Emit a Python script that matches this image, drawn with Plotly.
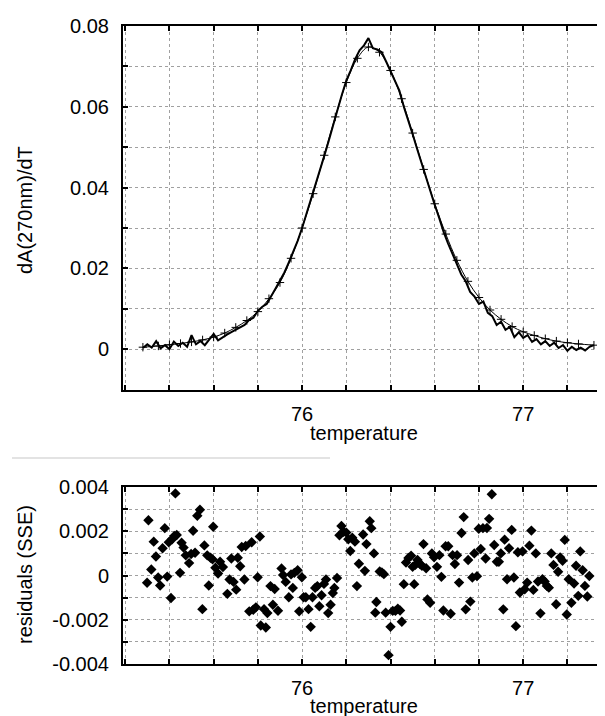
import plotly.graph_objects as go

# ---------------- data ----------------
# measured dA/dT curve (step 0.02 K)
meas_T = [75.28 + 0.02 * i for i in range(103)]
meas_vals = [
    0.0003, 0.0012, 0.0004, 0.0020, 0.0002, 0.0010, 0.0000, 0.0019, 0.0008, 0.0016,
    0.0006, 0.0035, 0.0012, 0.0020, 0.0010, 0.0025, 0.0038, 0.0022, 0.0030, 0.0036,
    0.0042, 0.0048, 0.0055, 0.0060, 0.0072, 0.0078, 0.0095, 0.0105, 0.0112, 0.0130,
    0.0150, 0.0170, 0.0190, 0.0215, 0.0240, 0.0268, 0.0300, 0.0335, 0.0368, 0.0405,
    0.0440, 0.0478, 0.0515, 0.0556, 0.0592, 0.0630, 0.0665, 0.0690, 0.0718, 0.0740,
    0.0752, 0.0770, 0.0745, 0.0742, 0.0735, 0.0712, 0.0688, 0.0665, 0.0640, 0.0600,
    0.0568, 0.0532, 0.0496, 0.0460, 0.0425, 0.0390, 0.0357, 0.0325, 0.0290, 0.0262,
    0.0235, 0.0212, 0.0185, 0.0168, 0.0142, 0.0130, 0.0112, 0.0118, 0.0090, 0.0082,
    0.0060, 0.0068, 0.0048, 0.0055, 0.0030, 0.0042, 0.0028, 0.0035, 0.0018, 0.0025,
    0.0012, 0.0020, 0.0008, 0.0016, 0.0003, 0.0010, -0.0004, 0.0006, -0.0002, 0.0004,
    -0.0003, 0.0006, 0.0010,
]

# fitted curve
fit_T = [75.28, 75.35, 75.40, 75.45, 75.50, 75.55, 75.60, 75.65, 75.70, 75.75,
         75.80, 75.85, 75.90, 75.95, 76.00, 76.05, 76.10, 76.15, 76.20, 76.25,
         76.30, 76.35, 76.40, 76.45, 76.50, 76.55, 76.60, 76.65, 76.70, 76.75,
         76.80, 76.85, 76.90, 76.95, 77.00, 77.05, 77.10, 77.15, 77.20, 77.25, 77.32]
fit_vals = [0.0005, 0.0008, 0.0011, 0.0014, 0.0018, 0.0023, 0.0030, 0.0040, 0.0054, 0.0071,
            0.0093, 0.0125, 0.0165, 0.0225, 0.0300, 0.0385, 0.0480, 0.0575, 0.0660, 0.0720,
            0.0748, 0.0735, 0.0690, 0.0620, 0.0535, 0.0445, 0.0360, 0.0285, 0.0220, 0.0168,
            0.0128, 0.0097, 0.0074, 0.0056, 0.0043, 0.0034, 0.0026, 0.0020, 0.0016, 0.0013, 0.0010]

# residuals
res_T = [
    75.299, 75.305, 75.318, 75.329, 75.339, 75.349, 75.358, 75.369, 75.379, 75.390,
    75.397, 75.407, 75.412, 75.422, 75.427, 75.433, 75.448, 75.455, 75.464, 75.474,
    75.489, 75.498, 75.507, 75.516, 75.526, 75.538, 75.549, 75.558, 75.571, 75.578,
    75.586, 75.595, 75.598, 75.608, 75.620, 75.629, 75.642, 75.662, 75.672, 75.680,
    75.690, 75.702, 75.709, 75.720, 75.727, 75.739, 75.745, 75.761, 75.772, 75.779,
    75.791, 75.799, 75.809, 75.813, 75.828, 75.836, 75.843, 75.857, 75.868, 75.876,
    75.891, 75.907, 75.914, 75.926, 75.940, 75.950, 75.958, 75.965, 75.980, 75.987,
    75.999, 76.007, 76.017, 76.029, 76.039, 76.047, 76.059, 76.069, 76.078, 76.088,
    76.099, 76.108, 76.118, 76.129, 76.139, 76.146, 76.158, 76.169, 76.178, 76.188,
    76.200, 76.209, 76.218, 76.227, 76.239, 76.248, 76.257, 76.276, 76.284, 76.291,
    76.306, 76.313, 76.325, 76.331, 76.336, 76.351, 76.361, 76.370, 76.378, 76.391,
    76.400, 76.410, 76.422, 76.433, 76.443, 76.451, 76.460, 76.470, 76.481, 76.493,
    76.500, 76.507, 76.512, 76.522, 76.533, 76.542, 76.549, 76.561, 76.567, 76.579,
    76.587, 76.597, 76.610, 76.621, 76.630, 76.639, 76.649, 76.661, 76.672, 76.681,
    76.691, 76.701, 76.710, 76.721, 76.731, 76.740, 76.751, 76.761, 76.770, 76.779,
    76.791, 76.799, 76.808, 76.818, 76.830, 76.836, 76.846, 76.858, 76.869, 76.881,
    76.890, 76.899, 76.910, 76.916, 76.927, 76.936, 76.948, 76.958, 76.967, 76.976,
    76.985, 76.997, 77.007, 77.018, 77.028, 77.037, 77.046, 77.057, 77.067, 77.078,
    77.087, 77.097, 77.107, 77.116, 77.127, 77.137, 77.149, 77.158, 77.167, 77.178,
    77.188, 77.197, 77.206, 77.218, 77.230, 77.239, 77.249, 77.258, 77.269, 77.279,
    77.290, 77.299,
]
res_vals = [
    -0.00033, 0.00250, 0.00027, 0.00153, 0.00086, -0.00009, -0.00045, 0.00123, 0.00214, -0.00005,
    0.00150, -0.00102, 0.00164, 0.00179, 0.00371, 0.00183, 0.00012, 0.00148, 0.00126, 0.00091,
    0.00056, 0.00097, 0.00202, 0.00103, 0.00270, 0.00297, -0.00152, 0.00136, 0.00091, -0.00045,
    0.00080, 0.00073, 0.00220, 0.00035, 0.00009, 0.00062, 0.00038, -0.00083, -0.00018, 0.00077,
    -0.00029, -0.00064, 0.00080, 0.00042, 0.00129, -0.00018, 0.00133, -0.00162, 0.00150, -0.00155,
    -0.00144, -0.00008, 0.00176, -0.00226, -0.00152, -0.00235, -0.00170, -0.00048, -0.00132, -0.00061,
    -0.00159, 0.00032, 0.00002, -0.00029, -0.00098, 0.00005, -0.00056, 0.00012, 0.00024, -0.00162,
    -0.00008, -0.00098, -0.00098, -0.00152, -0.00232, -0.00098, -0.00056, -0.00048, -0.00139, -0.00089,
    -0.00038, -0.00018, -0.00170, -0.00132, -0.00079, -0.00056, -0.00011, 0.00182, 0.00224, 0.00198,
    0.00194, 0.00164, 0.00111, 0.00171, 0.00153, -0.00048, 0.00053, 0.00185, 0.00021, 0.00142,
    0.00245, 0.00214, 0.00100, -0.00168, -0.00120, 0.00018, 0.00014, 0.00006, -0.00168, -0.00360,
    -0.00232, -0.00160, -0.00160, -0.00150, -0.00158, -0.00209, -0.00039, 0.00059, 0.00079, 0.00089,
    0.00039, -0.00039, 0.00048, 0.00070, 0.00052, 0.00044, 0.00142, 0.00033, -0.00108, -0.00123,
    0.00100, 0.00082, 0.00039, 0.00092, -0.00006, -0.00158, 0.00132, 0.00132, -0.00173, 0.00092,
    0.00052, 0.00092, -0.00032, 0.00192, 0.00264, -0.00153, 0.00070, -0.00118, -0.00009, 0.00100,
    -0.00003, 0.00211, 0.00120, 0.00214, 0.00077, 0.00215, 0.00256, 0.00367, 0.00138, 0.00062,
    0.00062, 0.00100, -0.00153, 0.00162, -0.00017, 0.00123, 0.00206, -0.00009, -0.00229, 0.00105,
    -0.00077, 0.00109, -0.00062, -0.00032, 0.00135, 0.00203, -0.00065, 0.00100, -0.00027, -0.00171,
    -0.00017, -0.00027, -0.00047, -0.00055, 0.00100, 0.00048, -0.00130, 0.00017, 0.00082, 0.00067,
    0.00161, -0.00176, -0.00017, -0.00123, -0.00036, 0.00044, -0.00092, 0.00109, 0.00024, -0.00047,
    -0.00095, -0.00002,
]

x_tick_vals = [76, 77]
x_tick_text = ["76", "77"]
top_y_tick_vals = [0, 0.02, 0.04, 0.06, 0.08]
top_y_tick_text = ["0", "0.02", "0.04", "0.06", "0.08"]
bot_y_tick_vals = [-0.004, -0.002, 0, 0.002, 0.004]
bot_y_tick_text = ["-0.004", "-0.002", "0", "0.002", "0.004"]

x_title = "temperature"
top_y_title = "dA(270nm)/dT"
bot_y_title = "residuals (SSE)"

# ---------------- layout geometry ----------------
# The page body has an 8px margin, so the figure is drawn 8px smaller and
# everything is positioned in reference-pixel coordinates below.
OFF = 8
W, H = 605 - OFF, 716 - OFF
REF_L, REF_T, REF_B = 123, 26, 664        # plot-area edges in the reference
ML, MR, MT, MB = REF_L - OFF, 0, REF_T - OFF, 716 - REF_B


def py(pix):
    """reference pixel row -> paper y"""
    return (REF_B - pix) / (REF_B - REF_T)


def px(pix):
    """reference pixel column -> paper x"""
    return (pix - REF_L) / (605 - REF_L)


FONT = "Liberation Sans, Arial, Helvetica, sans-serif"
FS = 20
GRID = "#a0a0a0"

fig = go.Figure()

fig.add_trace(go.Scatter(
    x=fit_T, y=fit_vals, mode="lines+markers",
    line=dict(color="black", width=1, shape="spline"),
    marker=dict(symbol="cross-thin", size=6, line=dict(color="black", width=1)),
    xaxis="x", yaxis="y", showlegend=False, hoverinfo="skip"))
fig.add_trace(go.Scatter(
    x=meas_T, y=meas_vals, mode="lines",
    line=dict(color="black", width=2),
    xaxis="x", yaxis="y", showlegend=False))

fig.add_trace(go.Scatter(
    x=res_T, y=res_vals, mode="markers",
    marker=dict(symbol="diamond", size=8, color="black"),
    xaxis="x2", yaxis="y2", showlegend=False))

xcommon = dict(
    range=[75.19, 77.37], tickmode="array", tickvals=x_tick_vals, ticktext=x_tick_text,
    ticks="inside", ticklen=5, tickwidth=2, tickcolor="black",
    showline=True, linecolor="black", linewidth=2, mirror="ticks",
    showgrid=True, gridcolor=GRID, griddash="dot", gridwidth=1,
    minor=dict(dtick=0.2, tick0=76, ticks="inside", ticklen=5, tickwidth=2, tickcolor="black",
               showgrid=True, gridcolor=GRID, griddash="dot", gridwidth=1),
    zeroline=False, ticklabelstandoff=5,
    tickfont=dict(family=FONT, size=FS, color="black"),
)
ycommon = dict(
    tickmode="array", ticks="inside", ticklen=5, tickwidth=2, tickcolor="black",
    showline=True, linecolor="black", linewidth=2, mirror=False,
    showgrid=True, gridcolor=GRID, griddash="dot", gridwidth=1,
    zeroline=False, ticklabelstandoff=8,
    tickfont=dict(family=FONT, size=FS, color="black"),
)

fig.update_layout(
    width=W, height=H,
    margin=dict(l=ML, r=MR, t=MT, b=MB),
    paper_bgcolor="white", plot_bgcolor="white",
    font=dict(family=FONT, size=FS, color="black"),
    xaxis=dict(domain=[0, 1], anchor="y", **xcommon),
    yaxis=dict(domain=[py(390), 1], anchor="x", range=[-0.0101, 0.08],
               tickvals=top_y_tick_vals, ticktext=top_y_tick_text,
               minor=dict(dtick=0.01, ticks="inside", ticklen=5, tickwidth=2, tickcolor="black",
                          showgrid=True, gridcolor=GRID, griddash="dot", gridwidth=1),
               **ycommon),
    xaxis2=dict(domain=[0, 1], anchor="y2", **xcommon),
    yaxis2=dict(domain=[0, py(487)], anchor="x2", range=[-0.004, 0.004],
                tickvals=bot_y_tick_vals, ticktext=bot_y_tick_text,
                minor=dict(dtick=0.001, ticks="inside", ticklen=5, tickwidth=2, tickcolor="black",
                           showgrid=True, gridcolor=GRID, griddash="dot", gridwidth=1),
                **ycommon),
)

annots = [
    dict(text=x_title, x=0.5, y=py(433), xref="paper", yref="paper",
         xanchor="center", yanchor="middle", showarrow=False),
    dict(text=x_title, x=0.5, y=py(706), xref="paper", yref="paper",
         xanchor="center", yanchor="middle", showarrow=False),
    dict(text=top_y_title, x=px(25), y=py(210), xref="paper", yref="paper",
         xanchor="center", yanchor="middle", textangle=-90, showarrow=False),
    dict(text=bot_y_title, x=px(25), y=py(575), xref="paper", yref="paper",
         xanchor="center", yanchor="middle", textangle=-90, showarrow=False),
]
for a in annots:
    a["font"] = dict(family=FONT, size=FS, color="black")
fig.update_layout(annotations=annots)

# faint scan separator line between the panels
fig.add_shape(type="line", xref="paper", yref="paper",
              x0=px(12), x1=px(330), y0=py(458), y1=py(458),
              line=dict(color="#dadada", width=1.5))

fig.write_html("out.html")
